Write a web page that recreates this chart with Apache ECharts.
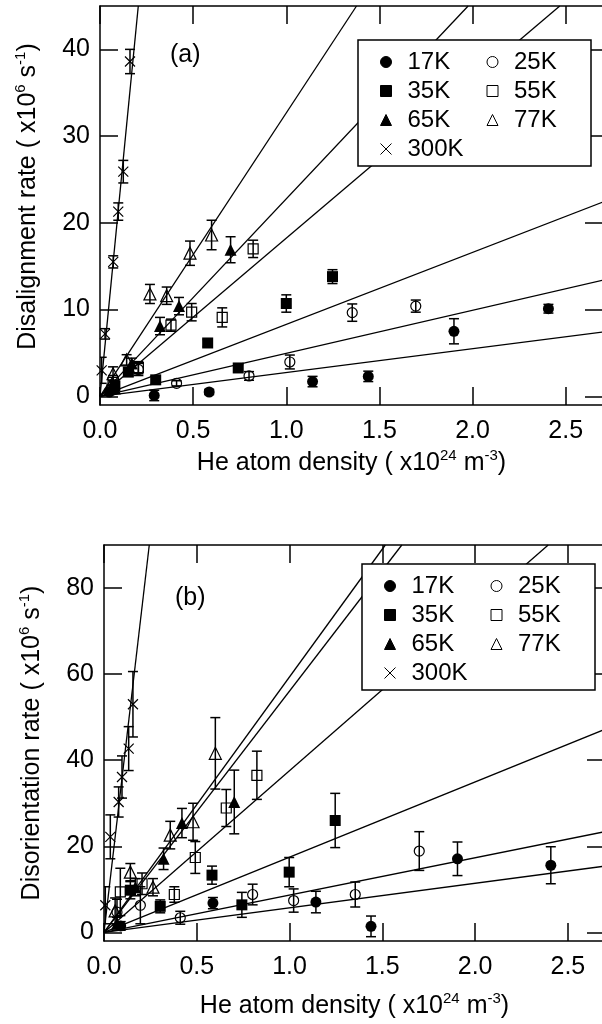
<!DOCTYPE html>
<html>
<head>
<meta charset="utf-8">
<script src="https://cdn.jsdelivr.net/npm/echarts@6/dist/echarts.min.js"></script>
<style>
html, body { margin: 0; padding: 0; background: #fff; }
#main { width: 602px; height: 1024px; }
</style>
</head>
<body>
<div id="main"></div>
<script>
var temps = ['17K', '25K', '35K', '55K', '65K', '77K', '300K'];

// panel (a) disalignment, points are [density, rate, error]
var a17 = [[0.05, 0.5, 0.3], [0.291, 0.1, 0.6], [0.586, 0.5, 0.3], [1.141, 1.7, 0.6], [1.44, 2.3, 0.6], [1.9, 7.5, 1.45], [2.407, 10.1, 0.5]];
var a25 = [[0.06, 0.8, 0.5], [0.206, 3.1, 0.7], [0.411, 1.5, 0.3], [0.8, 2.35, 0.5], [1.019, 3.96, 0.8], [1.354, 9.65, 1.0], [1.695, 10.4, 0.7]];
var a35 = [[0.08, 1.2, 0.4], [0.152, 2.8, 0.5], [0.299, 1.9, 0.4], [0.578, 6.15, 0.4], [0.742, 3.27, 0.4], [1.0, 10.7, 1.0], [1.248, 13.8, 0.8]];
var a55 = [[0.07, 1.6, 0.8], [0.206, 3.3, 0.7], [0.381, 8.2, 0.7], [0.492, 9.7, 1.0], [0.656, 9.1, 1.1], [0.822, 17.0, 1.0]];
var a65 = [[0.08, 0.9, 0.5], [0.17, 3.8, 0.6], [0.322, 8.1, 1.0], [0.424, 10.4, 1.0], [0.701, 16.9, 1.5]];
var a77 = [[0.07, 2.6, 0.8], [0.143, 4.2, 0.6], [0.268, 11.8, 1.1], [0.358, 11.6, 1.0], [0.483, 16.5, 1.4], [0.599, 18.6, 1.7]];
var a300 = [[0.009, 3.0, 1.5], [0.027, 7.2, 0.6], [0.071, 15.5, 0.7], [0.098, 21.3, 1.0], [0.125, 25.9, 1.3], [0.161, 38.6, 1.4]];
// where each fitted line (from the origin) leaves the frame
var aFitEnd = [[2.7, 7.42], [2.7, 13.4], [2.7, 22.4], [2.468, 45], [1.976, 45], [1.377, 45], [0.2055, 45]];

// panel (b) disorientation
var b17 = [[0.09, 1.5, 1.0], [0.587, 6.8, 1.3], [1.142, 7.05, 2.5], [1.439, 1.4, 2.4], [1.905, 17.1, 3.9], [2.408, 15.6, 4.3]];
var b25 = [[0.07, 4.7, 3.0], [0.196, 6.3, 4.3], [0.411, 3.4, 1.5], [0.801, 8.8, 2.4], [1.022, 7.4, 2.7], [1.354, 8.8, 2.9], [1.699, 18.9, 4.5]];
var b35 = [[0.142, 9.8, 2.0], [0.303, 6.05, 1.5], [0.582, 13.3, 2.1], [0.743, 6.4, 2.9], [0.998, 14.0, 3.4], [1.246, 26.0, 6.3]];
var b55 = [[0.088, 9.4, 5.5], [0.205, 11.3, 2.5], [0.379, 8.8, 1.8], [0.492, 17.4, 3.7], [0.659, 28.9, 4.3], [0.824, 36.5, 5.6]];
var b65 = [[0.07, 2.0, 1.5], [0.169, 10.5, 2.0], [0.321, 17.1, 2.5], [0.42, 25.4, 3.4], [0.702, 30.3, 7.4]];
var b77 = [[0.06, 5.0, 3.0], [0.142, 14.0, 2.0], [0.264, 10.5, 2.0], [0.357, 22.6, 3.2], [0.48, 25.7, 4.3], [0.6, 41.6, 8.3]];
var b300 = [[0.007, 6.3, 4.3], [0.034, 22.2, 5.1], [0.079, 30.3, 3.5], [0.097, 36.1, 4.9], [0.133, 42.7, 5.1], [0.156, 53.0, 7.6]];
var bFitEnd = [[2.7, 15.4], [2.7, 23.4], [2.7, 47.2], [2.394, 90], [1.605, 90], [1.516, 90], [0.244, 90]];

var xTicks = [0, 0.5, 1.0, 1.5, 2.0, 2.5];
var aYTicks = [0, 10, 20, 30, 40];
var bYTicks = [0, 20, 40, 60, 80];

var FONT = 'Liberation Sans, Arial, Helvetica, sans-serif';
var marks = ['circle', 'circle', 'rect', 'rect', 'triangle', 'triangle', 'path://M0,0L10,10M10,0L0,10'];
var filled = [true, false, true, false, true, false, false];
var sizes = [11, 10, 11, 10, 12, 12, 10];

function errorBar(params, api) {
    var x = api.value(0), y = api.value(1), e = api.value(2);
    var hi = api.coord([x, y + e]);
    var lo = api.coord([x, y - e]);
    var w = 5;
    var st = { stroke: '#000', lineWidth: 1.5 };
    return {
        type: 'group',
        children: [
            { type: 'line', shape: { x1: hi[0], y1: hi[1], x2: lo[0], y2: lo[1] }, style: st },
            { type: 'line', shape: { x1: hi[0] - w, y1: hi[1], x2: hi[0] + w, y2: hi[1] }, style: st },
            { type: 'line', shape: { x1: lo[0] - w, y1: lo[1], x2: lo[0] + w, y2: lo[1] }, style: st }
        ]
    };
}

function panelSeries(sets, fitEnds, axisIdx) {
    var out = [];
    sets.forEach(function (pts, i) {
        out.push({
            name: temps[i] + ' fit',
            type: 'line',
            xAxisIndex: axisIdx, yAxisIndex: axisIdx,
            data: [[0, 0], fitEnds[i]],
            showSymbol: false,
            lineStyle: { color: '#000', width: 1.3 },
            z: 1
        });
        out.push({
            name: temps[i] + ' err',
            type: 'custom',
            xAxisIndex: axisIdx, yAxisIndex: axisIdx,
            data: pts,
            encode: { x: 0, y: 1 },
            renderItem: errorBar,
            clip: true,
            z: 2
        });
        out.push({
            name: temps[i],
            type: 'scatter',
            xAxisIndex: axisIdx, yAxisIndex: axisIdx,
            data: pts.map(function (p) { return [p[0], p[1]]; }),
            symbol: marks[i],
            symbolSize: sizes[i],
            itemStyle: {
                color: filled[i] ? '#000' : 'rgba(0,0,0,0)',
                borderColor: '#000',
                borderWidth: filled[i] ? 0 : 1.2,
                opacity: 1
            },
            z: 3
        });
    });
    return out;
}

var nameRich = { sup: { fontFamily: FONT, fontSize: 15, lineHeight: 15, verticalAlign: 'top', color: '#000' } };

function xAxes(grid, gap) {
    var common = {
        gridIndex: grid, type: 'value', min: 0, max: 2.7,
        splitLine: { show: false },
        axisLine: { onZero: false, lineStyle: { color: '#000', width: 1.5 } },
        axisTick: { inside: true, length: 18, customValues: xTicks, lineStyle: { color: '#000', width: 1.5 } }
    };
    return [
        Object.assign({}, common, {
            position: 'bottom',
            name: 'He atom density ( x10{sup|24} m{sup|-3})',
            nameLocation: 'middle',
            nameGap: gap,
            nameTextStyle: { fontFamily: FONT, fontSize: 25, color: '#000', lineHeight: 30, rich: nameRich },
            axisLabel: {
                customValues: xTicks, margin: 14, fontFamily: FONT, fontSize: 25, color: '#000',
                formatter: function (v) { return v.toFixed(1); }
            }
        }),
        Object.assign({}, common, { position: 'top', axisLabel: { show: false } })
    ];
}

function yAxes(grid, min, max, ticks, title, pad) {
    var common = {
        gridIndex: grid, type: 'value', min: min, max: max,
        splitLine: { show: false },
        axisLine: { onZero: false, lineStyle: { color: '#000', width: 1.5 } },
        axisTick: { inside: true, length: 18, customValues: ticks, lineStyle: { color: '#000', width: 1.5 } }
    };
    return [
        Object.assign({}, common, {
            position: 'left',
            name: title,
            nameLocation: 'middle',
            nameGap: 57,
            nameTextStyle: { fontFamily: FONT, fontSize: 25, color: '#000', lineHeight: 30, padding: [0, 0, 0, pad], rich: nameRich },
            axisLabel: { customValues: ticks, margin: 10, fontFamily: FONT, fontSize: 25, color: '#000' }
        }),
        Object.assign({}, common, { position: 'right', axisLabel: { show: false } })
    ];
}

function legendFor(left, top) {
    return {
        data: temps,
        left: left, top: top,
        orient: 'horizontal',
        width: 210,
        itemWidth: 11, itemHeight: 11, itemGap: 5,
        padding: [10, 3, 5, 22],
        borderColor: '#000', borderWidth: 1.5,
        backgroundColor: '#fff',
        selectedMode: false,
        itemStyle: { borderWidth: 1 },
        textStyle: { fontFamily: FONT, fontSize: 24, lineHeight: 24, width: 74, padding: [0, 0, 0, 11], color: '#000' }
    };
}

var myChart = echarts.init(document.getElementById('main'), null, { renderer: 'canvas' });
var option = {
    animation: false,
    backgroundColor: '#fff',
    title: [
        { text: '(a)', left: 170, top: 43, padding: 0, textStyle: { fontFamily: FONT, fontSize: 25, fontWeight: 'normal', color: '#000' } },
        { text: '(b)', left: 175, top: 586, padding: 0, textStyle: { fontFamily: FONT, fontSize: 25, fontWeight: 'normal', color: '#000' } }
    ],
    legend: [legendFor(358, 40), legendFor(362, 564)],
    grid: [
        { left: 100, top: 6, width: 503, height: 399, outerBoundsMode: 'none' },
        { left: 104, top: 545, width: 501, height: 396, outerBoundsMode: 'none' }
    ],
    xAxis: xAxes(0, 43).concat(xAxes(1, 50)),
    yAxis: yAxes(0, -1, 45, aYTicks, 'Disalignment rate ( x10{sup|6} s{sup|-1})', 18)
        .concat(yAxes(1, -2, 90, bYTicks, 'Disorientation rate ( x10{sup|6} s{sup|-1})', 0)),
    series: panelSeries([a17, a25, a35, a55, a65, a77, a300], aFitEnd, 0)
        .concat(panelSeries([b17, b25, b35, b55, b65, b77, b300], bFitEnd, 2))
};
myChart.setOption(option);
</script>
</body>
</html>
